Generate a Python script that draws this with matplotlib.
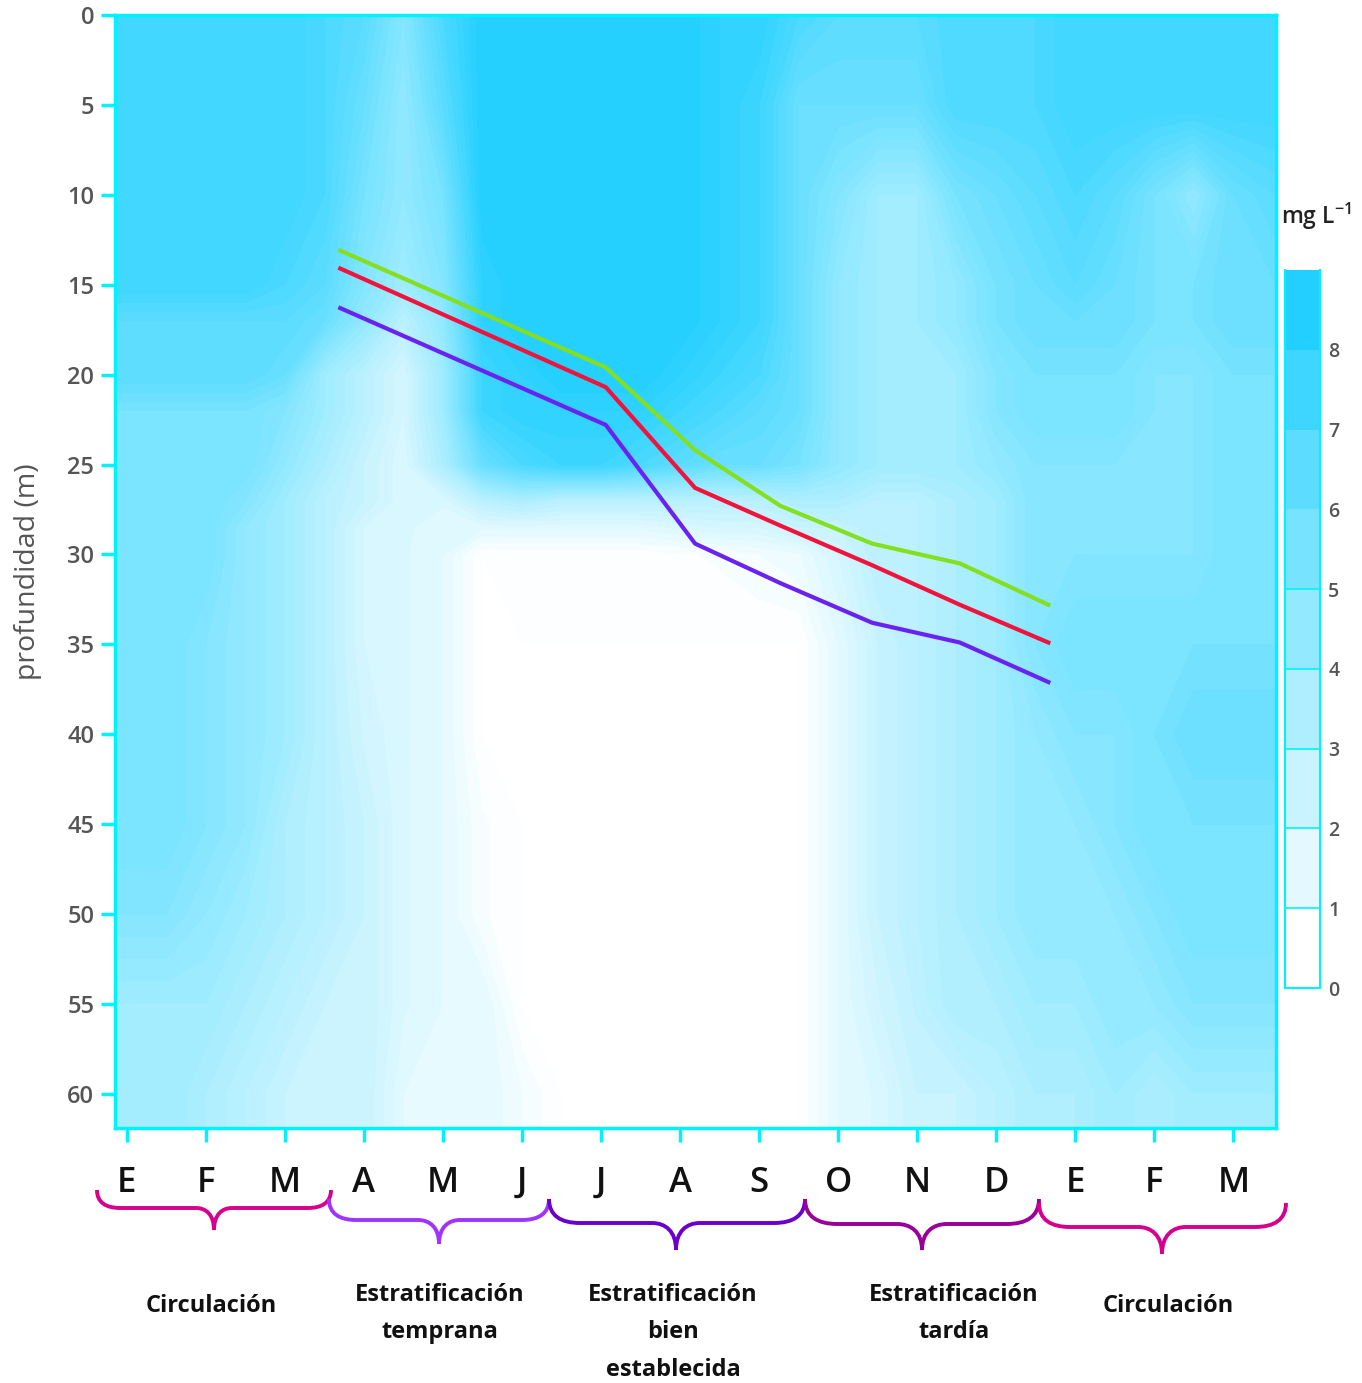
import numpy as np
import matplotlib
matplotlib.use("Agg")
import matplotlib.pyplot as plt
from matplotlib.colors import LinearSegmentedColormap, ListedColormap
from matplotlib.patches import PathPatch
from matplotlib.path import Path
from matplotlib.transforms import Affine2D

W, H = 1362, 1383
plt.rcParams['font.family'] = ['Open Sans', 'DejaVu Sans']

months = ['E', 'F', 'M', 'A', 'M', 'J', 'J', 'A', 'S', 'O', 'N', 'D', 'E', 'F', 'M']
depth_ticks = list(range(0, 65, 5))
legend_ticks = list(range(0, 9))
band_colors = ['#ffffff', '#e4f9ff', '#c8f3ff', '#aeeeff', '#93e9ff',
               '#78e3ff', '#5cdcff', '#3ed6ff', '#22cfff']

# oxygen grid, month position vs depth
grid_x = [-0.15, 0.5, 1, 1.5, 2, 2.5, 3, 3.5, 4, 4.5, 5, 5.5, 6, 6.5, 7, 7.5, 8, 8.5,
          9, 9.5, 10, 10.5, 11, 11.5, 12, 12.5, 13, 13.5, 14, 14.54]
grid_depth = [0, 5, 10, 15, 17, 20, 22, 25, 27, 28.5, 30, 35, 40, 45, 50, 55, 60, 62]
oxygen = [
    [7.5, 7.5, 7.5, 7.5, 7.5, 7, 6.5, 5, 7, 8.5, 8.5, 8.5, 8.5, 8.5, 8.5, 8, 8, 7, 6.5, 6.5, 6.5, 7, 7, 7, 7.5, 7.5, 7.5, 7.5, 7.5, 7.5],
    [7.5, 7.5, 7.5, 7.5, 7.5, 7, 6, 4.5, 6.5, 8.5, 8.5, 8.5, 8.5, 8.5, 8.5, 8, 7.5, 6, 6, 6, 6, 7, 7, 7, 7.5, 7.5, 7.5, 7.5, 7.5, 7.5],
    [7.5, 7.5, 7.5, 7.5, 7.5, 7, 5.5, 4.5, 5.5, 8.5, 8.5, 8.5, 8.5, 8.5, 8.5, 8, 7.5, 6, 5, 4, 4, 5.5, 6, 6.5, 7, 6.5, 5.5, 4.5, 6, 6.5],
    [7.5, 7.5, 7.5, 7.5, 7, 6.5, 5, 4, 5, 8, 8.5, 8.5, 8.5, 8.5, 8.5, 8, 7.5, 6, 4.5, 4, 4, 4.5, 5.5, 6, 6.5, 6, 5.5, 5.5, 6, 6],
    [6.5, 6.5, 6.5, 6.5, 6.5, 6, 4.5, 3, 4.5, 8, 8.5, 8.5, 8.5, 8.5, 8.5, 8, 7.5, 6, 4.5, 4, 4, 4.5, 5.5, 6, 6, 6, 5.5, 5.5, 6, 6],
    [6.5, 6.5, 6.5, 6.5, 6, 4, 3, 2, 4, 7.5, 8, 8.5, 8.5, 8.5, 8, 7.5, 7, 6, 4.5, 4, 4, 4, 5, 5.5, 5.5, 5.5, 5, 5, 5.5, 5.5],
    [5.5, 5.5, 5.5, 5.5, 5, 4, 3, 2, 4, 7.5, 8, 8, 8, 8, 7.5, 7, 6.5, 6, 4.5, 4, 4, 4, 5, 5.5, 5.5, 5.5, 5, 5, 5.5, 5.5],
    [5.5, 5.5, 5.5, 5.5, 4.5, 3.5, 2.5, 1.8, 3.5, 6, 7, 7.5, 7.5, 7, 6.5, 6, 6, 5.5, 4.5, 4, 4, 4, 4.5, 5, 5, 5, 5, 5, 5.5, 5.5],
    [5.5, 5.5, 5.5, 5, 4, 3, 2.5, 1.8, 1.8, 3, 3.5, 3, 3, 3, 3, 3, 3, 3.5, 3.5, 3, 3, 3.5, 4, 5, 5, 5, 5, 5, 5.5, 5.5],
    [5.5, 5.5, 5.5, 4.5, 4, 3, 2, 1.8, 1.6, 1.6, 1.6, 1.6, 1.6, 1.6, 1.8, 2, 2, 2.5, 2.5, 3, 3, 3.5, 4, 5, 5, 5, 5, 5, 5.5, 5.5],
    [5.5, 5.5, 5.5, 4.5, 4, 3, 2, 1.8, 1.5, 0.5, 0.6, 0.6, 0.6, 0.6, 0.7, 0.8, 1, 1.2, 2, 3, 3, 3.5, 4, 5, 5, 5, 5, 5, 5.5, 5.5],
    [5.5, 5.5, 5, 4.5, 4, 3, 2, 1.8, 1.5, 0.5, 0.5, 0.5, 0.5, 0.5, 0.5, 0.5, 0.5, 0.5, 1.5, 2.5, 3, 3.5, 4, 5, 5.5, 5.5, 5.5, 5.5, 5.5, 5.5],
    [5.5, 5.5, 5, 4.5, 4, 3, 2.2, 1.8, 1.5, 0.5, 0.5, 0.5, 0.5, 0.5, 0.5, 0.5, 0.5, 0.5, 1.5, 2.5, 3, 3.5, 4, 4.5, 5, 5, 5.5, 6, 6, 6],
    [5.5, 5.5, 5, 4.5, 3.5, 3, 2.5, 1.8, 1.5, 0.8, 0.5, 0.5, 0.5, 0.5, 0.5, 0.5, 0.5, 0.5, 1.5, 2.5, 3, 3.5, 4, 4.5, 4.5, 5, 5.5, 5.5, 5.5, 5.5],
    [5, 5, 4.5, 4, 3.5, 3, 2.5, 1.8, 1.5, 0.8, 0.5, 0.5, 0.5, 0.5, 0.5, 0.5, 0.5, 0.5, 1.5, 2.5, 3, 3.5, 4, 4.5, 4.5, 4.5, 5, 5.5, 5.5, 5.5],
    [4, 4, 4, 3.5, 3, 2.5, 2.5, 1.8, 1.5, 1.5, 0.5, 0.5, 0.5, 0.5, 0.5, 0.5, 0.5, 0.5, 1.5, 2.2, 2.8, 3.5, 3.5, 4, 4, 4.5, 4.5, 5, 5, 5],
    [4, 4, 3.5, 3, 2.5, 2.5, 2.5, 1.5, 1.5, 1.5, 1, 0.5, 0.5, 0.5, 0.5, 0.5, 0.5, 0.5, 1.5, 1.8, 2.5, 2.5, 3, 3.5, 3.5, 4, 3.5, 4, 4, 4],
    [4, 4, 3.5, 3, 2.5, 2.5, 2.5, 1.5, 1.5, 1.5, 1, 0.5, 0.5, 0.5, 0.5, 0.5, 0.5, 0.5, 1.5, 1.8, 2.5, 2.5, 3, 3.5, 3.5, 4, 3.5, 4, 4, 4],
]

# thermocline lines
line_x = [2.70, 6.06, 7.19, 8.27, 9.43, 10.54, 11.66]
upper_line = [13.1, 19.6, 24.2, 27.3, 29.4, 30.5, 32.8]
mid_line = [14.1, 20.7, 26.3, 28.4, 30.6, 32.8, 34.9]
lower_line = [16.3, 22.8, 29.4, 31.6, 33.8, 34.9, 37.1]

cyan = '#00f2ff'
grey = '#555555'

fig = plt.figure(figsize=(W / 100, H / 100), dpi=100)
ax = fig.add_axes([115 / W, 1 - 1128 / H, (1276 - 115) / W, (1128 - 15) / H])

cmap = LinearSegmentedColormap.from_list('oxy', band_colors)
levels = np.arange(0, 9.01, 0.25)
ax.contourf(grid_x, grid_depth, np.array(oxygen), levels=levels, cmap=cmap,
            vmin=0.5, vmax=8.5, extend='both')

ax.plot(line_x, upper_line, color='#84e01e', lw=3)
ax.plot(line_x, mid_line, color='#f0143c', lw=3)
ax.plot(line_x, lower_line, color='#6a22f0', lw=3)

ax.set_xlim(-0.15, 14.54)
ax.set_ylim(61.9, 0)
for s in ax.spines.values():
    s.set_color(cyan)
    s.set_linewidth(2.5)
ax.set_xticks(range(len(months)))
ax.set_xticklabels(months, fontsize=25, color='#111111', fontweight='semibold')
ax.set_yticks(depth_ticks)
ax.set_yticklabels(depth_ticks, fontsize=17, color=grey, fontweight='semibold')
ax.tick_params(axis='x', length=10, width=2.5, color=cyan, pad=17)
ax.tick_params(axis='y', length=10, width=2.5, color=cyan, pad=5)
ax.set_ylabel('profundidad (m)', fontsize=20.5, color=grey, labelpad=18)

# colour key
cax = fig.add_axes([1285 / W, 1 - 988 / H, 35 / W, (988 - 270) / H])
cax.pcolormesh([0, 1], np.arange(0, 10), np.arange(9).reshape(-1, 1),
               cmap=ListedColormap(band_colors), vmin=0, vmax=9)
cax.set_xticks([])
cax.yaxis.tick_right()
cax.set_yticks(legend_ticks)
cax.set_yticklabels(legend_ticks, fontsize=14, color=grey, fontweight='semibold')
cax.tick_params(axis='y', length=0, pad=6)
for v in legend_ticks[1:6]:
    cax.axhline(v, color=cyan, lw=1.2)
for side, s in cax.spines.items():
    s.set_color(cyan)
    s.set_linewidth(1.5)
    if side == 'top':
        s.set_visible(False)
fig.text(1316 / W, 1 - 216 / H, 'mg L$^{\\mathregular{-1}}$', fontsize=16.5, color='#222222',
         fontweight='semibold', ha='center', va='center')


def brace(x0, x1, tip, top, bar, end, color):
    # curly bracket in picture pixels, y running down
    r = bar - top
    verts = [(x0, top), (x0, top + r * 0.7), (x0 + r * 0.5, bar), (x0 + r * 1.3, bar),
             (tip - r * 1.0, bar), (tip - r * 0.45, bar), (tip, bar + (end - bar) * 0.3), (tip, end),
             (tip, bar + (end - bar) * 0.3), (tip + r * 0.45, bar), (tip + r * 1.0, bar),
             (x1 - r * 1.3, bar), (x1 - r * 0.5, bar), (x1, top + r * 0.7), (x1, top)]
    codes = [Path.MOVETO, Path.CURVE4, Path.CURVE4, Path.CURVE4,
             Path.LINETO, Path.CURVE4, Path.CURVE4, Path.CURVE4,
             Path.CURVE4, Path.CURVE4, Path.CURVE4,
             Path.LINETO, Path.CURVE4, Path.CURVE4, Path.CURVE4]
    to_fig = Affine2D().scale(1 / W, -1 / H).translate(0, 1) + fig.transFigure
    fig.add_artist(PathPatch(Path(verts, codes), fill=False, edgecolor=color, lw=2.8,
                             transform=to_fig))


brace(97, 331, 214, 1190, 1208, 1230, '#d6008f')
brace(329, 549, 439, 1199, 1220, 1244, '#a033ff')
brace(549, 805, 676, 1199, 1223, 1250, '#6a00cc')
brace(805, 1039, 922, 1199, 1224, 1250, '#990099')
brace(1039, 1286, 1162, 1203, 1227, 1254, '#d6008f')

period_style = dict(fontsize=17, color='#111111', fontweight='bold', ha='center', va='center')
fig.text(211 / W, 1 - 1306 / H, 'Circulación', **period_style)
fig.text(440 / W, 1 - 1295 / H, 'Estratificación', **period_style)
fig.text(440 / W, 1 - 1332 / H, 'temprana', **period_style)
fig.text(673 / W, 1 - 1295 / H, 'Estratificación', **period_style)
fig.text(673 / W, 1 - 1332 / H, 'bien', **period_style)
fig.text(673 / W, 1 - 1370 / H, 'establecida', **period_style)
fig.text(954 / W, 1 - 1295 / H, 'Estratificación', **period_style)
fig.text(954 / W, 1 - 1332 / H, 'tardía', **period_style)
fig.text(1168 / W, 1 - 1306 / H, 'Circulación', **period_style)

fig.savefig('out.png', dpi=100)
